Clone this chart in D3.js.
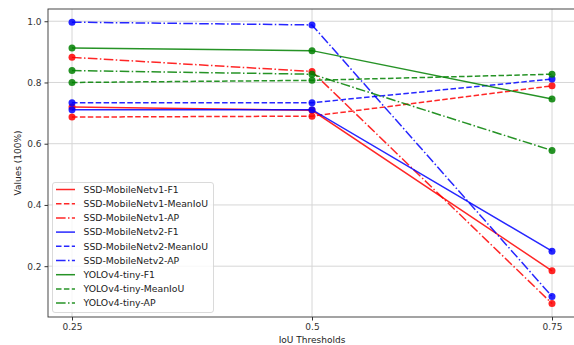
<!DOCTYPE html>
<html>
<head>
<meta charset="utf-8">
<script src="https://cdn.jsdelivr.net/npm/d3@7"></script>
<style>
  body { margin: 0; background: #fff; }
  text { font-family: "DejaVu Sans", sans-serif; }
</style>
</head>
<body>
<svg id="chart" width="574" height="345"></svg>
<script>
// IoU thresholds on the x axis
const thresholds = [0.25, 0.5, 0.75];
const xTicks = [0.25, 0.5, 0.75];
const yTicks = [0.2, 0.4, 0.6, 0.8, 1.0];

// series names
const seriesNames = [
  "SSD-MobileNetv1-F1", "SSD-MobileNetv1-MeanIoU", "SSD-MobileNetv1-AP",
  "SSD-MobileNetv2-F1", "SSD-MobileNetv2-MeanIoU", "SSD-MobileNetv2-AP",
  "YOLOv4-tiny-F1", "YOLOv4-tiny-MeanIoU", "YOLOv4-tiny-AP"
];

// values
const v1F1 = [0.720, 0.709, 0.185];
const v1MeanIoU = [0.687, 0.690, 0.789];
const v1AP = [0.882, 0.836, 0.078];
const v2F1 = [0.711, 0.711, 0.249];
const v2MeanIoU = [0.734, 0.734, 0.811];
const v2AP = [0.997, 0.988, 0.101];
const yoloF1 = [0.913, 0.904, 0.746];
const yoloMeanIoU = [0.800, 0.807, 0.827];
const yoloAP = [0.839, 0.827, 0.578];

const seriesValues = [v1F1, v1MeanIoU, v1AP, v2F1, v2MeanIoU, v2AP, yoloF1, yoloMeanIoU, yoloAP];

const colors = ["#ff0000", "#ff0000", "#ff0000", "#0000ff", "#0000ff", "#0000ff", "#008000", "#008000", "#008000"];
const dashes = ["none", "5.5,2.4", "9.6,2.4,1.5,2.4"];

const svg = d3.select("#chart"),
      margin = {top: 9, right: -2, bottom: 28, left: 48},
      width = +svg.attr("width") - margin.left - margin.right,
      height = +svg.attr("height") - margin.top - margin.bottom;

const g = svg.append("g").attr("transform", `translate(${margin.left},${margin.top})`);

const x = d3.scaleLinear().domain([0.225, 0.775]).range([0, width]);
const y = d3.scaleLinear().domain([0.034, 1.04]).range([height, 0]);

// grid
g.append("g").selectAll("line")
  .data(xTicks).enter().append("line")
    .attr("x1", d => x(d)).attr("x2", d => x(d))
    .attr("y1", 0).attr("y2", height)
    .attr("stroke", "#d6d6d6").attr("stroke-width", 1);
g.append("g").selectAll("line")
  .data(yTicks).enter().append("line")
    .attr("y1", d => y(d)).attr("y2", d => y(d))
    .attr("x1", 0).attr("x2", width)
    .attr("stroke", "#d6d6d6").attr("stroke-width", 1);

// axes
const xAxis = g.append("g")
  .attr("transform", `translate(0,${height})`)
  .call(d3.axisBottom(x).tickValues(xTicks).tickFormat(d => String(d)).tickSize(3.5).tickPadding(3));
const yAxis = g.append("g")
  .call(d3.axisLeft(y).tickValues(yTicks).tickFormat(d3.format(".1f")).tickSize(3.5).tickPadding(3));
[xAxis, yAxis].forEach(a => {
  a.select(".domain").remove();
  a.selectAll("line").attr("stroke", "#333");
  a.selectAll("text").style("font-size", "9px").attr("fill", "#333");
});

// frame
g.append("rect")
  .attr("width", width).attr("height", height)
  .attr("fill", "none").attr("stroke", "#333").attr("stroke-width", 0.9);

// lines and markers
const line = d3.line().x((d, i) => x(thresholds[i])).y(d => y(d));
seriesValues.forEach((vals, k) => {
  g.append("path")
    .datum(vals)
    .attr("d", line)
    .attr("fill", "none")
    .attr("stroke", colors[k])
    .attr("stroke-opacity", 0.85)
    .attr("stroke-width", 1.5)
    .attr("stroke-dasharray", dashes[k % 3]);
  g.selectAll(null)
    .data(vals).enter().append("circle")
      .attr("cx", (d, i) => x(thresholds[i]))
      .attr("cy", d => y(d))
      .attr("r", 3.5)
      .attr("fill", colors[k])
      .attr("fill-opacity", 0.85);
});

// legend
const lg = svg.append("g").attr("transform", "translate(52.5,182.5)");
lg.append("rect")
  .attr("width", 161).attr("height", 130).attr("rx", 2.5)
  .attr("fill", "#fff").attr("fill-opacity", 0.8)
  .attr("stroke", "#d0d0d0").attr("stroke-width", 0.8);
seriesNames.forEach((name, k) => {
  const cy = 7 + k * 14.2;
  lg.append("line")
    .attr("x1", 3.5).attr("x2", 22.5).attr("y1", cy).attr("y2", cy)
    .attr("stroke", colors[k]).attr("stroke-opacity", 0.85)
    .attr("stroke-width", 1.5)
    .attr("stroke-dasharray", dashes[k % 3]);
  lg.append("text")
    .attr("x", 31).attr("y", cy + 3.3)
    .style("font-size", "9.3px").attr("fill", "#222")
    .text(name);
});

// axis titles
svg.append("text")
  .attr("x", margin.left + x(0.5)).attr("y", 343)
  .attr("text-anchor", "middle")
  .style("font-size", "9px").attr("fill", "#222")
  .text("IoU Thresholds");
svg.append("text")
  .attr("transform", `translate(20.5,${margin.top + height / 2}) rotate(-90)`)
  .attr("text-anchor", "middle")
  .style("font-size", "9px").attr("fill", "#222")
  .text("Values (100%)");
</script>
</body>
</html>
